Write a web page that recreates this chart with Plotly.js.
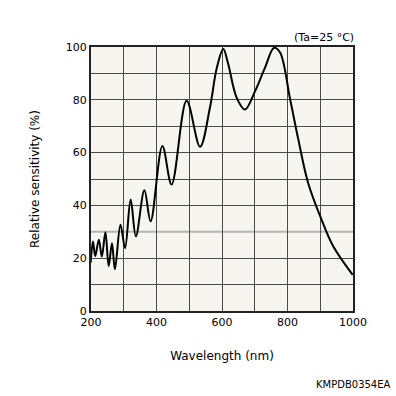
<!DOCTYPE html>
<html><head><meta charset="utf-8">
<script src="https://cdn.plot.ly/plotly-3.0.1.min.js"></script>
<style>html,body{margin:0;padding:0;background:#fff}#plot{width:396px;height:396px}</style>
</head><body><div id="plot"></div>
<script>
const wavelength = [199,206,213,224,233,244,254,264,273,290,304,321,337,363,382,418,446,492,533,563,584,604,618,645,670,701,731,759,777,808,833,863,904,940,999];
const sensitivity = [18.3,26.3,20.8,27,20.6,29.8,17,25.7,15.8,32.7,23.8,42.2,28.3,45.7,34,62.5,47.9,79.6,62.2,76.9,92,99.2,94,80.7,76.3,83.3,92.1,99.7,98,80.2,65,48.5,34.6,24.4,13.7];
const xTickVals = [200,300,400,500,600,700,800,900,1000];
const xTickText = ['200','','400','','600','','800','','1000'];
const yTickVals = [0,10,20,40,50,60,70,80,90,100];
const yTickText = ['0','','20','40','','60','','80','','100'];
const font = 'DejaVu Sans, Verdana, sans-serif';
Plotly.newPlot('plot', [{
  x: wavelength, y: sensitivity, mode: 'lines', type: 'scatter',
  line: {color: '#000', width: 2, shape: 'spline', smoothing: 1}, hoverinfo: 'none'
}], {
  width: 396, height: 396,
  margin: {l: 91, r: 43, t: 47, b: 85},
  paper_bgcolor: '#fff', plot_bgcolor: '#f7f5ef',
  showlegend: false,
  font: {family: font, size: 11, color: '#000'},
  xaxis: {range: [200, 1000], tickvals: xTickVals, ticktext: xTickText, showgrid: true,
    gridcolor: '#4a4a4a', gridwidth: 1, zeroline: false, showline: true, mirror: true,
    linecolor: '#222', linewidth: 2, ticks: '', ticklen: 0,
    title: {text: 'Wavelength (nm)', font: {size: 12}, standoff: 23}},
  yaxis: {range: [0, 100], tickvals: yTickVals, ticktext: yTickText, showgrid: true,
    gridcolor: '#4a4a4a', gridwidth: 1, zeroline: false, showline: true, mirror: true,
    linecolor: '#222', linewidth: 2, ticks: '', ticklen: 0,
    title: {text: 'Relative sensitivity (%)', font: {size: 12}, standoff: 24}},
  shapes: [{type: 'line', xref: 'paper', yref: 'y', x0: 0, x1: 1, y0: 30, y1: 30,
    line: {color: '#b4b4b4', width: 2}, layer: 'between'}],
  annotations: [
    {text: '(Ta=25 °C)', xref: 'paper', yref: 'paper', x: 1.01, y: 1, xanchor: 'right', yanchor: 'bottom', yshift: 1, showarrow: false, font: {size: 11}},
    {text: 'KMPDB0354EA', xref: 'paper', yref: 'paper', x: 1.153, y: -0.28, xanchor: 'right', yanchor: 'middle', showarrow: false, font: {size: 10}}
  ]
}, {displayModeBar: false, staticPlot: true});
</script></body></html>
